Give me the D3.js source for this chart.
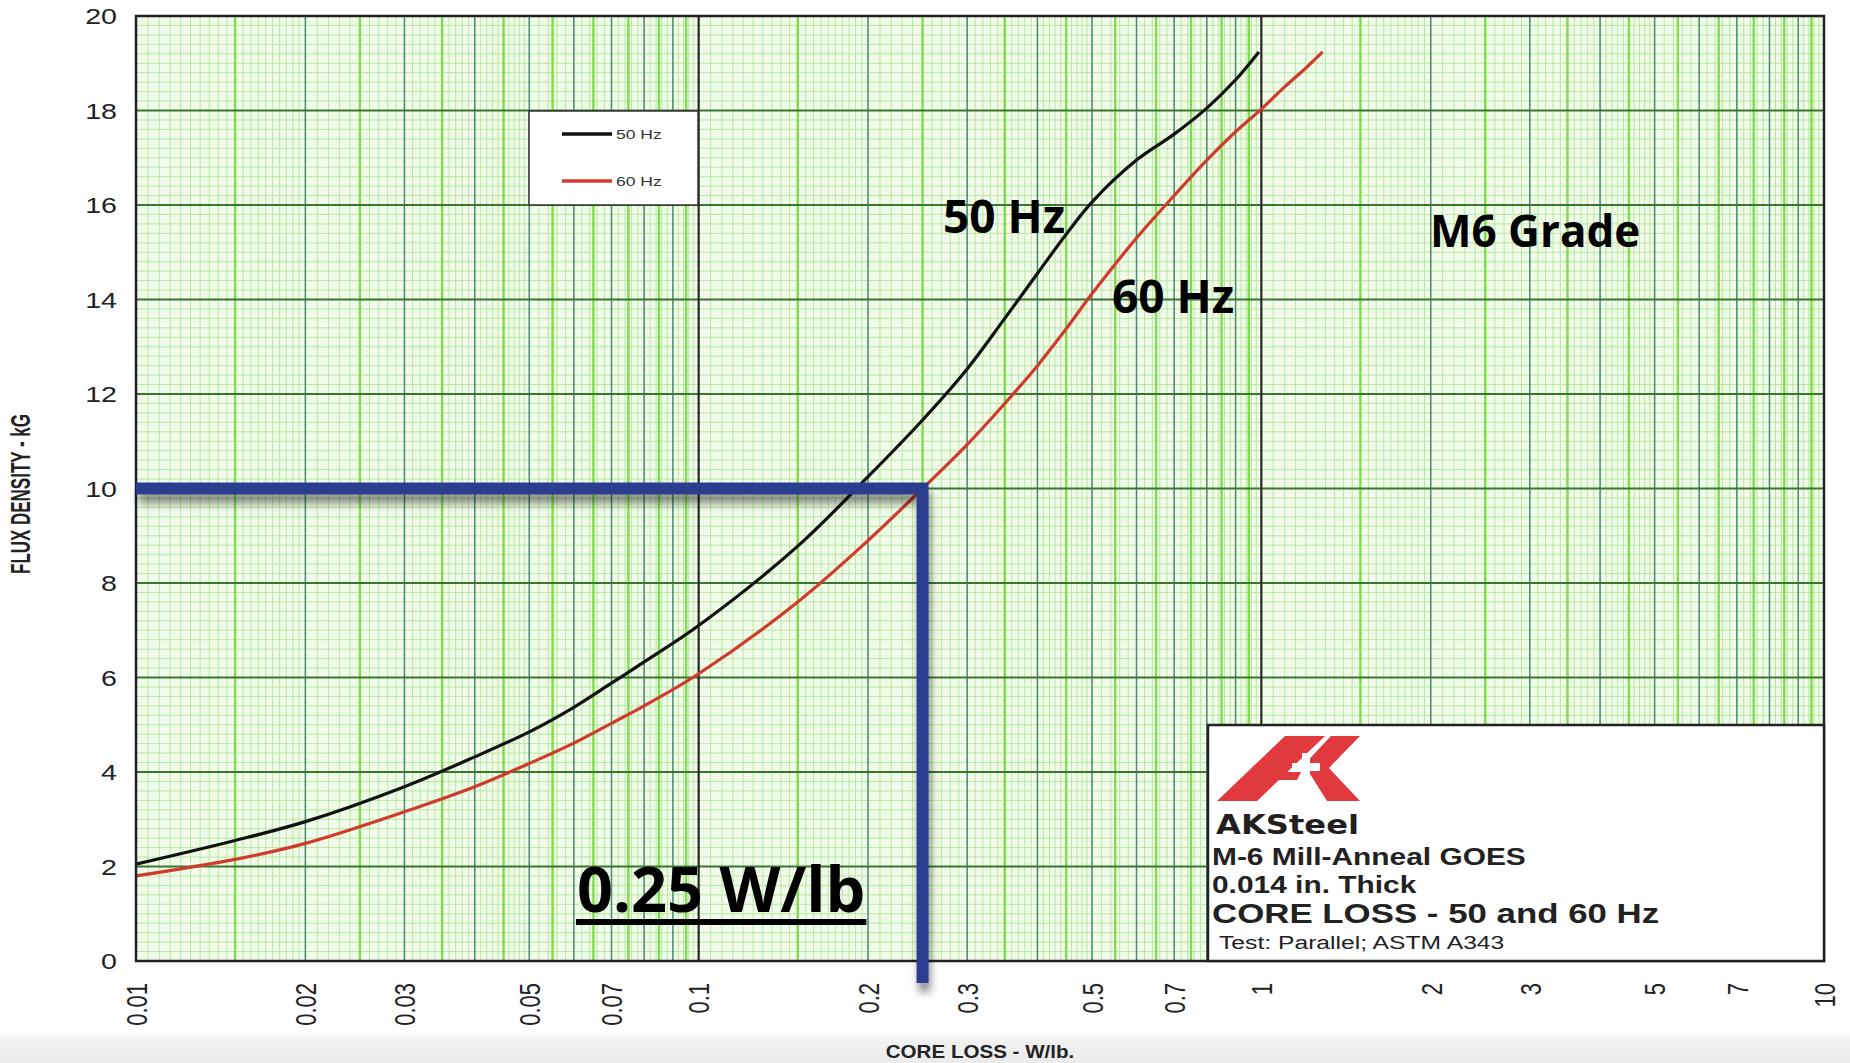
<!DOCTYPE html>
<html>
<head>
<meta charset="utf-8">
<script src="https://cdn.jsdelivr.net/npm/d3@7"></script>
<style>
  html, body { margin: 0; padding: 0; background: #ffffff; }
  svg { display: block; }
</style>
</head>
<body>
<svg id="chart" width="1850" height="1063"></svg>
<script>
// ---- data: core loss (W/lb) against flux density (kG), M-6 GOES ----
const series50Name = "50 Hz";
const loss50 = [0.01, 0.015, 0.02, 0.03, 0.04, 0.05, 0.06, 0.07, 0.08, 0.1, 0.15, 0.2, 0.25, 0.3, 0.35, 0.4, 0.45, 0.5, 0.6, 0.7, 0.8, 0.9, 0.99];
const flux50 = [2.05, 2.55, 2.95, 3.69, 4.32, 4.85, 5.37, 5.88, 6.33, 7.1, 8.78, 10.25, 11.45, 12.53, 13.6, 14.55, 15.38, 16.06, 16.95, 17.5, 18.05, 18.65, 19.24];

const series60Name = "60 Hz";
const loss60 = [0.01, 0.015, 0.02, 0.03, 0.04, 0.05, 0.06, 0.07, 0.08, 0.1, 0.15, 0.2, 0.25, 0.3, 0.35, 0.4, 0.45, 0.5, 0.6, 0.7, 0.8, 0.9, 1.0, 1.1, 1.2, 1.285];
const flux60 = [1.80, 2.15, 2.49, 3.16, 3.69, 4.18, 4.61, 5.03, 5.4, 6.08, 7.6, 8.9, 10.0, 10.93, 11.8, 12.6, 13.38, 14.12, 15.3, 16.2, 16.95, 17.55, 18.03, 18.5, 18.9, 19.24];

// operating point marked on the chart
const markLoss = 0.25;
const markFlux = 10;

// axis ticks
const xTickValues = [0.01, 0.02, 0.03, 0.05, 0.07, 0.1, 0.2, 0.3, 0.5, 0.7, 1, 2, 3, 5, 7, 10];
const xTickLabels = ["0.01", "0.02", "0.03", "0.05", "0.07", "0.1", "0.2", "0.3", "0.5", "0.7", "1", "2", "3", "5", "7", "10"];
const yTickValues = [0, 2, 4, 6, 8, 10, 12, 14, 16, 18, 20];

// ---- layout ----
const svg = d3.select("#chart");
const plot = { left: 136, right: 1824, top: 16, bottom: 961 };
const x = d3.scaleLog().domain([0.01, 10]).range([plot.left, plot.right]);
const y = d3.scaleLinear().domain([0, 20]).range([plot.bottom, plot.top]);
const stretch = 1.3;   // wide lettering of the printed chart

const defs = svg.append("defs");
const sh = defs.append("filter").attr("id", "shadow")
  .attr("filterUnits", "userSpaceOnUse")
  .attr("x", 0).attr("y", 0).attr("width", 1850).attr("height", 1063);
sh.append("feGaussianBlur").attr("in", "SourceAlpha").attr("stdDeviation", 4).attr("result", "blur");
sh.append("feOffset").attr("in", "blur").attr("dx", 2).attr("dy", 9).attr("result", "off");
sh.append("feComponentTransfer").attr("in", "off").attr("result", "soft")
  .append("feFuncA").attr("type", "linear").attr("slope", 0.45);
const mg = sh.append("feMerge");
mg.append("feMergeNode").attr("in", "soft");
mg.append("feMergeNode").attr("in", "SourceGraphic");

const bottomGrad = defs.append("linearGradient").attr("id", "floor")
  .attr("x1", 0).attr("y1", 0).attr("x2", 0).attr("y2", 1);
bottomGrad.append("stop").attr("offset", 0).attr("stop-color", "#ffffff");
bottomGrad.append("stop").attr("offset", 0.35).attr("stop-color", "#f1f1f1");
bottomGrad.append("stop").attr("offset", 1).attr("stop-color", "#ebebeb");

// light floor band at the foot of the page
svg.append("rect").attr("x", 0).attr("y", 1030).attr("width", 1850).attr("height", 33)
  .attr("fill", "url(#floor)");

// ---- graph paper ----
const grid = svg.append("g");
grid.append("rect")
  .attr("x", plot.left).attr("y", plot.top)
  .attr("width", plot.right - plot.left).attr("height", plot.bottom - plot.top)
  .attr("fill", "#f1fbea");

const decades = [0.01, 0.1, 1];
const fineX = [], halfX = [], unitX = [];
decades.forEach(d => {
  for (let k = 21; k < 40; k++) fineX.push(d * k / 20);
  for (let k = 20; k < 50; k++) fineX.push(d * k / 10);
  for (let k = 25; k < 50; k++) fineX.push(d * k / 5);
  for (let k = 3; k < 20; k += 2) halfX.push(d * k / 2);
  for (let k = 2; k < 10; k++) unitX.push(d * k);
});
const fineY = d3.range(0, 101).map(i => i * 0.2);
const majorY = d3.range(0, 11).map(i => i * 2);

function vLines(vals, color, width) {
  grid.append("g").selectAll("line").data(vals).join("line")
    .attr("x1", d => x(d)).attr("x2", d => x(d))
    .attr("y1", plot.top).attr("y2", plot.bottom)
    .attr("stroke", color).attr("stroke-width", width);
}
function hLines(vals, color, width) {
  grid.append("g").selectAll("line").data(vals).join("line")
    .attr("x1", plot.left).attr("x2", plot.right)
    .attr("y1", d => y(d)).attr("y2", d => y(d))
    .attr("stroke", color).attr("stroke-width", width);
}
vLines(fineX, "#b3e49b", 0.9);
hLines(fineY, "#b3e49b", 0.9);
vLines(halfX, "#80dc4e", 2.4);
vLines(unitX, "#4a8b70", 1.5);
hLines(majorY, "#3a7630", 2.2);
vLines([0.1, 1], "#262626", 2.2);

// ---- axes ----
const yAxis = svg.append("g")
  .attr("transform", `translate(${plot.left},0)`)
  .call(d3.axisLeft(y).tickValues(yTickValues).tickSize(0).tickFormat(d3.format("d")));
yAxis.select(".domain").remove();
yAxis.selectAll("text")
  .attr("x", 0).attr("dy", "0.36em")
  .attr("transform", `translate(-19,0) scale(${stretch},1)`)
  .attr("text-anchor", "end")
  .style("font-family", "'Liberation Sans', Arial, sans-serif")
  .style("font-size", "22px").style("fill", "#222");

const xAxis = svg.append("g")
  .attr("transform", `translate(0,${plot.bottom})`)
  .call(d3.axisBottom(x).tickValues(xTickValues).tickSize(0)
    .tickFormat((d, i) => xTickLabels[i]));
xAxis.select(".domain").remove();
xAxis.selectAll("text")
  .attr("x", 0).attr("y", 0).attr("dy", "0.36em")
  .attr("transform", `translate(0,22) scale(${stretch},1) rotate(-90)`)
  .attr("text-anchor", "end")
  .style("font-family", "'Liberation Sans', Arial, sans-serif")
  .style("font-size", "22px").style("fill", "#222");

svg.append("text")
  .attr("transform", `translate(${(plot.left + plot.right) / 2},1058) scale(${stretch},1)`)
  .attr("text-anchor", "middle")
  .attr("textLength", 145).attr("lengthAdjust", "spacingAndGlyphs")
  .style("font-family", "'Liberation Sans Narrow', 'Liberation Sans', Arial, sans-serif")
  .style("font-weight", "bold").style("font-size", "19px").style("fill", "#222")
  .text("CORE LOSS - W/lb.");

svg.append("text")
  .attr("transform", `translate(30,494) scale(${stretch},1) rotate(-90)`)
  .attr("text-anchor", "middle")
  .attr("textLength", 160).attr("lengthAdjust", "spacingAndGlyphs")
  .style("font-family", "'Liberation Sans Narrow', 'Liberation Sans', Arial, sans-serif")
  .style("font-weight", "bold").style("font-size", "21px").style("fill", "#222")
  .text("FLUX DENSITY - kG");

// ---- curves ----
const line = d3.line()
  .x(d => x(d[0])).y(d => y(d[1]))
  .curve(d3.curveCatmullRom.alpha(0.5));

svg.append("path").datum(d3.zip(loss60, flux60))
  .attr("d", line).attr("fill", "none")
  .attr("stroke", "#cf3b2c").attr("stroke-width", 3.2);
svg.append("path").datum(d3.zip(loss50, flux50))
  .attr("d", line).attr("fill", "none")
  .attr("stroke", "#111").attr("stroke-width", 3.2);

// ---- legend ----
const lg = svg.append("g");
lg.append("rect").attr("x", 529).attr("y", 111).attr("width", 169).attr("height", 94)
  .attr("fill", "#fff").attr("stroke", "#333").attr("stroke-width", 1.5);
[[series50Name, "#111", 134], [series60Name, "#cf3b2c", 181]].forEach(([name, col, ly]) => {
  lg.append("line").attr("x1", 562).attr("x2", 612).attr("y1", ly).attr("y2", ly)
    .attr("stroke", col).attr("stroke-width", 3.5);
  lg.append("text")
    .attr("transform", `translate(616,${ly + 5}) scale(${stretch},1)`)
    .style("font-family", "'Liberation Sans', Arial, sans-serif")
    .style("font-size", "13.5px").style("fill", "#333")
    .text(name);
});

// ---- frame ----
svg.append("rect")
  .attr("x", plot.left).attr("y", plot.top)
  .attr("width", plot.right - plot.left).attr("height", plot.bottom - plot.top)
  .attr("fill", "none").attr("stroke", "#222").attr("stroke-width", 2.5);

// ---- title block ----
const tb = svg.append("g");
tb.append("rect").attr("x", 1208).attr("y", 725).attr("width", plot.right - 1208).attr("height", plot.bottom - 725)
  .attr("fill", "#fff").attr("stroke", "#222").attr("stroke-width", 2.5);

// company mark: slanted A and K joined by a white cross
const logo = tb.append("g").attr("transform", "translate(1217,736)");
logo.append("path")
  .attr("d", "M0,65 L40,65 L108,0 L68,0 Z")
  .attr("fill", "#e0393e");
logo.append("path")
  .attr("d", "M38,36 L84,36 L80,44 L30,44 Z")
  .attr("fill", "#e0393e");
logo.append("path")
  .attr("d", "M82,34 L114,0 L143,0 L108,36 Z")
  .attr("fill", "#e0393e");
logo.append("path")
  .attr("d", "M88,30 L110,30 L143,65 L110,65 Z")
  .attr("fill", "#e0393e");
logo.append("path")
  .attr("d", "M75,27 h10 v-10 h8 v10 h10 v8 h-10 v10 h-8 v-10 h-10 Z")
  .attr("fill", "#fff");

tb.append("text").attr("x", 1216).attr("y", 834)
  .attr("textLength", 143).attr("lengthAdjust", "spacingAndGlyphs")
  .style("font-family", "'DejaVu Sans', sans-serif").style("font-weight", "bold")
  .style("font-size", "27px").style("fill", "#231f20")
  .text("AKSteel");

const infoLines = [
  { t: "M-6 Mill-Anneal GOES", y: 865, size: 23, w: "bold", x: 1212 },
  { t: "0.014 in. Thick", y: 893, size: 23, w: "bold", x: 1212 },
  { t: "CORE LOSS - 50 and 60 Hz", y: 923, size: 26.8, w: "bold", x: 1212 },
  { t: "Test: Parallel; ASTM A343", y: 949, size: 19, w: "normal", x: 1219 }
];
infoLines.forEach(l => {
  tb.append("text")
    .attr("transform", `translate(${l.x},${l.y}) scale(${stretch},1)`)
    .style("font-family", "'Liberation Sans', Arial, sans-serif")
    .style("font-weight", l.w).style("font-size", l.size + "px").style("fill", "#222")
    .text(l.t);
});

// ---- annotations ----
svg.append("path")
  .attr("d", `M${x(0.01)},${y(markFlux)} H${x(markLoss)} V${plot.bottom + 22}`)
  .attr("fill", "none").attr("stroke", "#2b3d8f").attr("stroke-width", 12)
  .attr("stroke-linejoin", "miter").attr("filter", "url(#shadow)");

const annot = "'Open Sans', 'Noto Sans', sans-serif";
svg.append("text").attr("x", 943).attr("y", 233)
  .style("font-family", annot).style("font-weight", "bold").style("font-size", "46px").style("fill", "#000")
  .text(series50Name);
svg.append("text").attr("x", 1112).attr("y", 313)
  .style("font-family", annot).style("font-weight", "bold").style("font-size", "46px").style("fill", "#000")
  .text(series60Name);
svg.append("text").attr("x", 1430).attr("y", 247)
  .style("font-family", annot).style("font-weight", "bold").style("font-size", "44px").style("fill", "#000")
  .text("M6 Grade");

const lbl = svg.append("text").attr("x", 577).attr("y", 912)
  .style("font-family", annot).style("font-weight", "bold").style("font-size", "63px").style("fill", "#000")
  .text(`${markLoss} W/lb`);
const bb = lbl.node().getBBox();
svg.append("rect").attr("x", bb.x - 1).attr("y", 919).attr("width", bb.width + 2).attr("height", 6)
  .attr("fill", "#000");
</script>
</body>
</html>
